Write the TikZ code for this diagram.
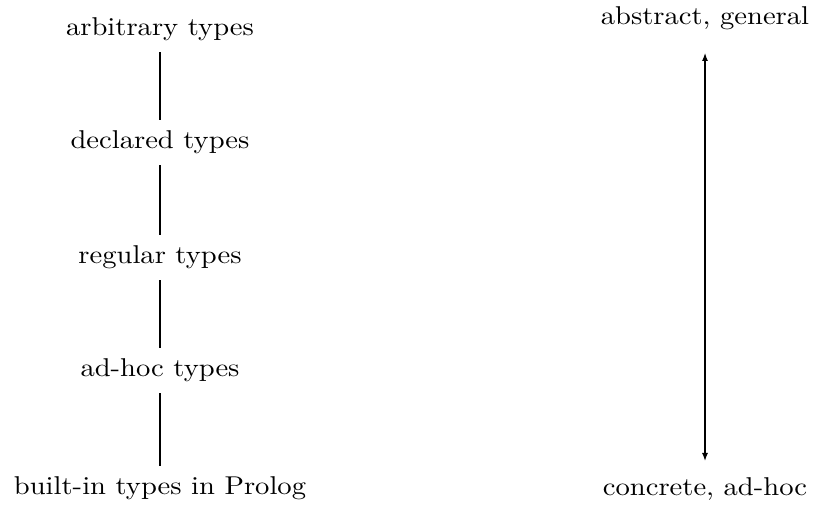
\documentclass[tikz,border=0pt]{standalone}
\usepackage{graphicx}
\usetikzlibrary{arrows.meta}
% labels are set a little wider than the plain roman face
\newcommand{\widelbl}[1]{\scalebox{1.11}[1]{#1}}
\tikzset{
  lvl/.style={anchor=base, inner xsep=0pt, inner ysep=3pt,
    text height=8.2pt, text depth=3.4pt,
    font=\fontsize{10.3}{12}\selectfont},
  link/.style={line width=0.8pt},
  scale arrow/.style={line width=0.8pt, {Latex[length=3.4pt,width=2.4pt]}-{Latex[length=3.4pt,width=2.4pt]}}
}
\begin{document}
\begin{tikzpicture}[x=0.4pt, y=-0.4pt]
  \useasboundingbox (0,0) rectangle (814,510);
  % hierarchy of type notions
  \node[lvl] (arb) at (160,36)  {\widelbl{arbitrary types}};
  \node[lvl] (dec) at (160,149) {\widelbl{declared types}};
  \node[lvl] (reg) at (160,264) {\widelbl{regular types}};
  \node[lvl] (adh) at (160,377) {\widelbl{ad-hoc types}};
  \node[lvl] (bui) at (160,495) {\widelbl{built-in types in Prolog}};
  \draw[link] (arb.south) -- (dec.north);
  \draw[link] (dec.south) -- (reg.north);
  \draw[link] (reg.south) -- (adh.north);
  \draw[link] (adh.south) -- (bui.north);
  % scale from general to concrete
  \node[lvl] (gen) at (705,25)  {\widelbl{abstract, general}};
  \node[lvl] (con) at (705,496) {\widelbl{concrete, ad-hoc}};
  \draw[scale arrow, shorten <=4.4pt, shorten >=2.4pt] (gen.south) -- (con.north);
\end{tikzpicture}
\end{document}
